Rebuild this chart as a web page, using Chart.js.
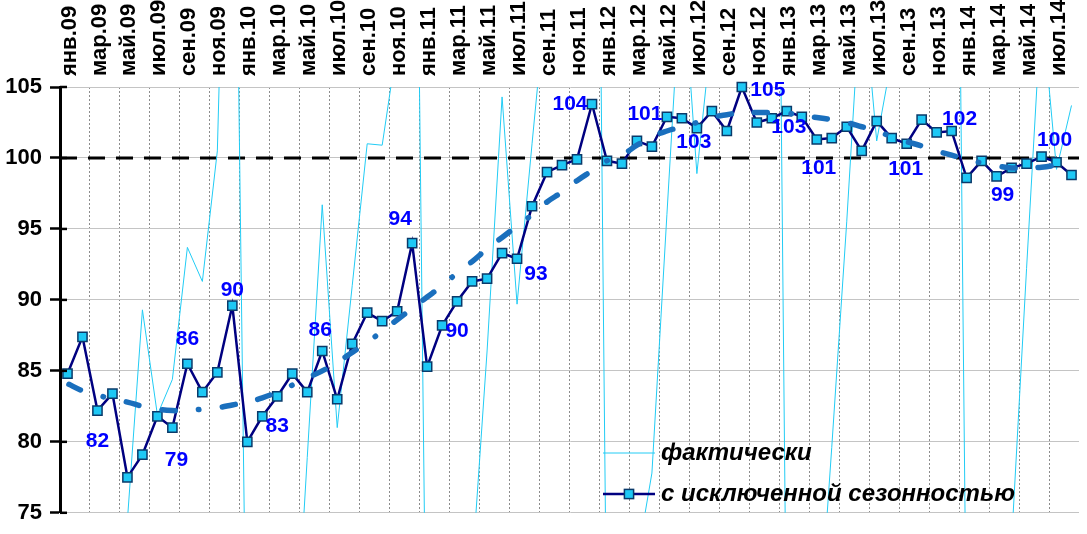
<!DOCTYPE html>
<html>
<head>
<meta charset="utf-8">
<script src="https://cdn.jsdelivr.net/npm/chart.js@4.4.1/dist/chart.umd.min.js"></script>
<style>
  html, body { margin: 0; padding: 0; background: #fff; }
  #wrap { width: 1087px; height: 534px; }
</style>
</head>
<body>
<div id="wrap"><canvas id="chart" width="1087" height="534"></canvas></div>
<script>
// месяцы: янв.09 ... авг.14
const monthNames = ['янв', 'фев', 'мар', 'апр', 'май', 'июн', 'июл', 'авг', 'сен', 'окт', 'ноя', 'дек'];
const yearNames = ['09', '10', '11', '12', '13', '14'];
const monthsInLastYear = 8;

let labels = [];
yearNames.forEach((yy, k) => {
    let n = k === yearNames.length - 1 ? monthsInLastYear : 12;
    for (let m = 0; m < n; m++)
        labels.push(monthNames[m] + '.' + yy);
});

// фактически
const actual = [
    56, 60, 64, 68, 74.5, 89.3, 81.9, 84.4, 93.7, 91.3, 100.5, 140,
    58, 60, 62, 61, 78.9, 96.7, 81.0, 91.0, 101.0, 100.9, 108, 150,
    58, 61, 66, 71, 86.4, 104.3, 89.7, 101, 112, 116, 122, 170,
    64, 67, 71.6, 77.8, 96, 114, 98.9, 109, 116, 120, 128, 172,
    63, 64, 64.3, 79.6, 95.5, 113, 101.2, 107, 115, 118, 125, 168,
    64, 66, 68, 72.9, 92.2, 110.8, 99.2, 103.7
];

// с исключенной сезонностью
const seasonal = [
    84.8, 87.4, 82.2, 83.4, 77.5, 79.1, 81.8, 81.0, 85.5, 83.5, 84.9, 89.6,
    80.0, 81.8, 83.2, 84.8, 83.5, 86.4, 83.0, 86.9, 89.1, 88.5, 89.2, 94.0,
    85.3, 88.2, 89.9, 91.3, 91.5, 93.3, 92.9, 96.6, 99.0, 99.5, 99.9, 103.8,
    99.8, 99.6, 101.2, 100.8, 102.9, 102.8, 102.1, 103.3, 101.9, 105.0, 102.5, 102.8,
    103.3, 102.9, 101.3, 101.4, 102.2, 100.5, 102.6, 101.4, 101.0, 102.7, 101.8, 101.9,
    98.6, 99.8, 98.7, 99.3, 99.6, 100.1, 99.7, 98.8
];

// линия тренда
const trend = [
    84.1, 83.6, 83.3, 83.0, 82.8, 82.5, 82.3, 82.2, 82.2, 82.3, 82.4, 82.6,
    82.8, 83.1, 83.5, 84.0, 84.5, 85.0, 85.6, 86.3, 87.0, 87.8, 88.6, 89.4,
    90.2, 91.0, 91.9, 92.7, 93.6, 94.4, 95.2, 96.0, 96.9, 97.6, 98.4, 99.1,
    99.8, 100.2, 100.9, 101.5, 101.9, 102.2, 102.5, 102.85, 103.05, 103.2, 103.2, 103.2,
    103.15, 103.0, 102.85, 102.7, 102.5, 102.2, 101.9, 101.5, 101.15, 100.85, 100.5, 100.2,
    99.9, 99.65, 99.45, 99.3, 99.3, 99.35, 99.5, 99.7
];

// подписи значений: номер точки и сдвиг подписи
const labelPoints = [2, 5, 8, 11, 14, 17, 23, 26, 30, 35, 38, 41, 45, 48, 50, 56, 59, 62, 65];
const labelShift = [
    [0, 31], [34, 6], [0, -25], [0, -15], [0, 30], [-2, -21], [-12, -24], [0, 30], [19, 15],
    [-22, 0], [8, -27], [12, 24], [26, 3], [2, 16], [2, 29], [-1, 25], [8, -12], [6, 19], [13, -16]
];

const refLevel = 100;
const fontFamily = '"Liberation Sans", Arial, sans-serif';

Chart.defaults.font.family = fontFamily;

// пунктир на уровне 100
const refLine = {
    id: 'refLine',
    beforeDatasetsDraw(chart) {
        let ctx = chart.ctx, a = chart.chartArea;
        let y = chart.scales.y.getPixelForValue(refLevel);
        ctx.save();
        ctx.strokeStyle = '#000';
        ctx.lineWidth = 3;
        ctx.setLineDash([17, 11]);
        ctx.beginPath();
        ctx.moveTo(a.left, y);
        ctx.lineTo(a.right, y);
        ctx.stroke();
        ctx.restore();
    }
};

// подписи месяцев сверху, через один, повернуты
const topLabels = {
    id: 'topLabels',
    afterDraw(chart) {
        let ctx = chart.ctx, xs = chart.scales.x;
        ctx.save();
        ctx.font = 'bold 22px ' + fontFamily;
        ctx.fillStyle = '#000';
        ctx.textAlign = 'left';
        ctx.textBaseline = 'middle';
        labels.forEach((lab, i) => {
            if (i % 2 !== 0) return;
            ctx.save();
            ctx.translate(xs.getPixelForValue(i) + 2, chart.chartArea.top - 11);
            ctx.rotate(-Math.PI / 2);
            ctx.fillText(lab, 0, 0);
            ctx.restore();
        });
        ctx.restore();
    }
};

// подписи значений
const valueLabels = {
    id: 'valueLabels',
    afterDatasetsDraw(chart) {
        let ctx = chart.ctx;
        let meta = chart.getDatasetMeta(0);
        ctx.save();
        ctx.font = 'bold 21px ' + fontFamily;
        ctx.fillStyle = '#0000ff';
        ctx.textAlign = 'center';
        ctx.textBaseline = 'middle';
        labelPoints.forEach((idx, k) => {
            let pt = meta.data[idx];
            ctx.fillText(String(Math.round(seasonal[idx])), pt.x + labelShift[k][0], pt.y + labelShift[k][1]);
        });
        ctx.restore();
    }
};

// легенда внутри поля графика + засечки оси Y
const innerLegend = {
    id: 'innerLegend',
    afterDraw(chart) {
        let ctx = chart.ctx, a = chart.chartArea;
        let ys = chart.scales.y;
        ctx.save();
        ctx.strokeStyle = '#000';
        ctx.lineWidth = 2.5;
        ys.ticks.forEach(t => {
            let y = ys.getPixelForValue(t.value);
            ctx.beginPath();
            ctx.moveTo(a.left, y);
            ctx.lineTo(a.left + 7, y);
            ctx.stroke();
        });

        let x0 = 603, x1 = 655, tx = 661;
        let rows = [453, 494];
        let order = [1, 0];
        ctx.font = 'italic bold 24px ' + fontFamily;
        ctx.fillStyle = '#000';
        ctx.textBaseline = 'middle';
        ctx.textAlign = 'left';
        order.forEach((di, r) => {
            let ds = chart.data.datasets[di];
            let y = rows[r];
            ctx.strokeStyle = ds.borderColor;
            ctx.lineWidth = ds.borderWidth;
            ctx.beginPath();
            ctx.moveTo(x0, y);
            ctx.lineTo(x1, y);
            ctx.stroke();
            if (ds.pointRadius > 0) {
                let s = ds.pointRadius * Math.SQRT1_2;
                let cx = (x0 + x1) / 2;
                ctx.fillStyle = ds.pointBackgroundColor;
                ctx.strokeStyle = ds.pointBorderColor;
                ctx.lineWidth = ds.pointBorderWidth;
                ctx.fillRect(cx - s, y - s, 2 * s, 2 * s);
                ctx.strokeRect(cx - s, y - s, 2 * s, 2 * s);
                ctx.fillStyle = '#000';
            }
            ctx.fillText(ds.label, tx, y);
        });
        ctx.restore();
    }
};

const data = {
    labels: labels,
    datasets: [{
        label: 'с исключенной сезонностью',
        data: seasonal,
        borderColor: '#000080',
        borderWidth: 2.5,
        pointStyle: 'rect',
        pointRadius: 6.5,
        pointBackgroundColor: '#1ec8f5',
        pointBorderColor: '#0a3a6a',
        pointBorderWidth: 1.5,
        tension: 0,
        clip: 10,
        order: 1
    }, {
        label: 'фактически',
        data: actual,
        borderColor: '#22ccf5',
        borderWidth: 1,
        pointRadius: 0,
        tension: 0,
        order: 2
    }, {
        label: 'тренд',
        data: trend,
        borderColor: '#1a6fbd',
        borderWidth: 5.5,
        borderCapStyle: 'round',
        borderDash: [0.5, 23.5, 13, 23.5, 13, 23.5],
        borderDashOffset: 59,
        pointRadius: 0,
        tension: 0.4,
        order: 0
    }]
};

const config = {
    type: 'line',
    data: data,
    options: {
        responsive: false,
        animation: false,
        layout: { padding: { top: 0, right: 4, bottom: 16, left: 0 } },
        plugins: {
            legend: { display: false },
            tooltip: { enabled: false }
        },
        scales: {
            x: {
                position: 'top',
                offset: true,
                grid: {
                    offset: true,
                    drawTicks: false,
                    lineWidth: 1,
                    color: (c) => (c.index % 2 === 0 ? '#8c8c8c' : 'rgba(0,0,0,0)')
                },
                border: { display: false, dash: [2, 2] },
                ticks: { display: false },
                afterFit: (s) => { s.height = 87; s.paddingLeft = 0; s.paddingRight = 0; }
            },
            y: {
                min: 75,
                max: 105,
                ticks: {
                    stepSize: 5,
                    padding: 8,
                    color: '#000',
                    font: { size: 22, weight: 'bold' }
                },
                grid: {
                    color: '#c4c4c4',
                    lineWidth: 1,
                    tickLength: 10,
                    tickColor: '#000',
                    tickWidth: 2.5
                },
                border: { display: true, color: '#000', width: 3 },
                afterFit: (s) => { s.width = 60; }
            }
        }
    },
    plugins: [refLine, topLabels, valueLabels, innerLegend]
};

let ctx = document.getElementById('chart').getContext('2d');
new Chart(ctx, config);
</script>
</body>
</html>
